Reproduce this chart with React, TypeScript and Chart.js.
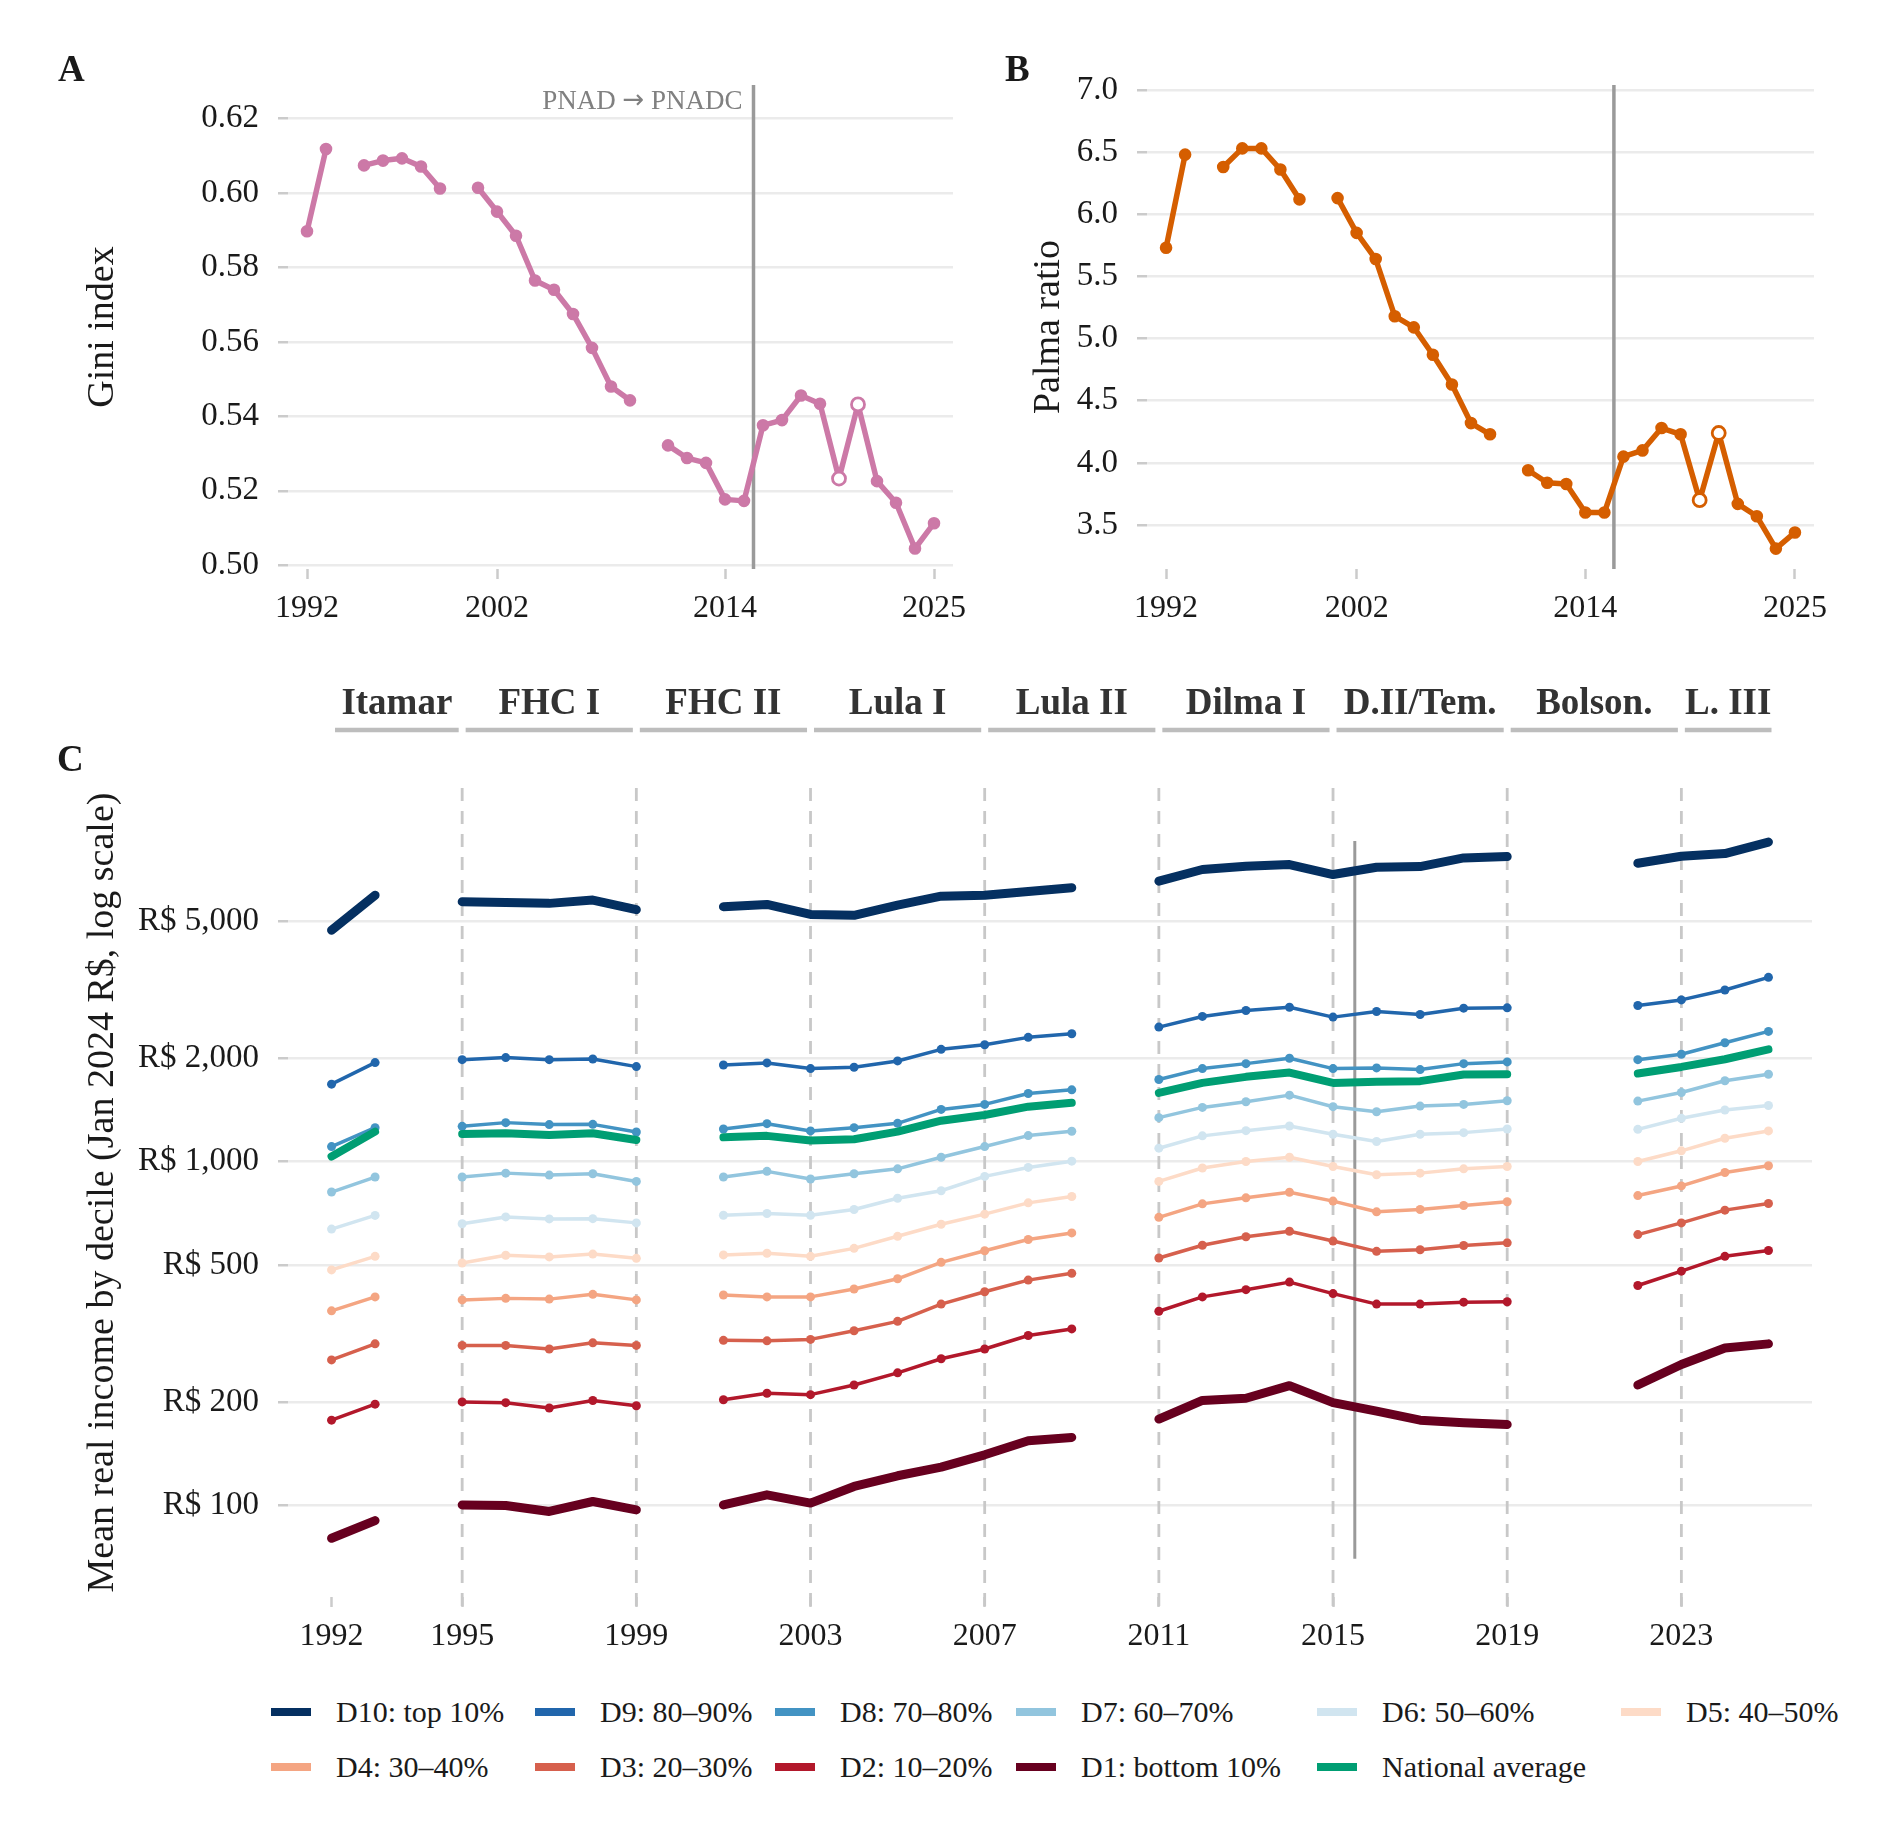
import { useEffect, useRef } from 'react';
import { Chart, registerables } from 'chart.js';
import type { ChartConfiguration, Plugin } from 'chart.js';

Chart.register(...registerables);

// ---- data ----
const YEARS = [
  1992, 1993, 1994, 1995, 1996, 1997, 1998, 1999, 2000, 2001, 2002, 2003,
  2004, 2005, 2006, 2007, 2008, 2009, 2010, 2011, 2012, 2013, 2014, 2015,
  2016, 2017, 2018, 2019, 2020, 2021, 2022, 2023, 2024, 2025,
];

const GINI = [
  0.5897, 0.6118, null, 0.6074, 0.6087, 0.6093, 0.6071, 0.6012, null, 0.6014, 0.595, 0.5885,
  0.5765, 0.574, 0.5675, 0.5584, 0.548, 0.5443, null, 0.5322, 0.5288, 0.5275, 0.5177, 0.5173,
  0.5376, 0.539, 0.5456, 0.5434, 0.5233, 0.5432, 0.5226, 0.5168, 0.5045, 0.5113,
];

const PALMA = [
  5.73, 6.48, null, 6.38, 6.53, 6.53, 6.36, 6.12, null, 6.13, 5.85, 5.64,
  5.18, 5.09, 4.87, 4.63, 4.32, 4.23, null, 3.94, 3.84, 3.83, 3.6, 3.6,
  4.05, 4.1, 4.28, 4.23, 3.7, 4.24, 3.67, 3.57, 3.31, 3.44,
];

const HOLLOW_YEARS = [2020, 2021];
const GINI_TICKS = [0.5, 0.52, 0.54, 0.56, 0.58, 0.6, 0.62];
const PALMA_TICKS = [3.5, 4, 4.5, 5, 5.5, 6, 6.5, 7];
const TOP_YEAR_TICKS = [1992, 2002, 2014, 2025];

const D10 = [
  4700, 5945, null, 5689, 5662, 5627, 5752, 5395, null, 5502, 5589, 5227,
  5194, 5562, 5906, 5945, 6095, 6247, null, 6530, 7059, 7217, 7297, 6826,
  7168, 7200, 7627, 7696, null, null, 7362, 7714, 7852, 8484,
];
const D9 = [
  1678, 1938, null, 1977, 2004, 1977, 1986, 1887, null, 1908, 1934, 1862,
  1879, 1960, 2118, 2185, 2295, 2351, null, 2458, 2640, 2747, 2808, 2628,
  2729, 2674, 2790, 2796, null, null, 2840, 2949, 3152, 3429,
];
const D8 = [
  1105, 1254, null, 1265, 1297, 1280, 1282, 1218, null, 1243, 1288, 1227,
  1254, 1291, 1417, 1465, 1576, 1615, null, 1731, 1862, 1925, 1995, 1862,
  1871, 1850, 1925, 1947, null, null, 1977, 2049, 2214, 2388,
];
const D7 = [
  815, 901, null, 901, 925, 913, 921, 875, null, 901, 936, 889,
  921, 952, 1029, 1105, 1189, 1224, null, 1341, 1436, 1492, 1559, 1443,
  1395, 1449, 1465, 1501, null, null, 1498, 1587, 1716, 1793,
];
const D6 = [
  636, 697, null, 659, 690, 681, 682, 663, null, 698, 706, 698,
  725, 782, 822, 905, 961, 1002, null, 1093, 1187, 1229, 1268, 1200,
  1143, 1200, 1213, 1243, null, null, 1240, 1335, 1411, 1455,
];
const D5 = [
  484, 530, null, 507, 534, 528, 538, 523, null, 535, 541, 530,
  559, 606, 657, 703, 758, 791, null, 875, 957, 1000, 1029, 967,
  915, 925, 952, 967, null, null, 1000, 1074, 1168, 1227,
];
const D4 = [
  368, 404, null, 396, 400, 398, 411, 396, null, 409, 404, 404,
  426, 456, 509, 550, 593, 620, null, 688, 753, 784, 814, 767,
  714, 725, 745, 764, null, null, 796, 849, 929, 972,
];
const D3 = [
  265, 295, null, 292, 292, 285, 297, 292, null, 302, 301, 304,
  322, 343, 385, 418, 452, 473, null, 524, 571, 604, 627, 587,
  548, 554, 570, 580, null, null, 613, 663, 722, 755,
];
const D2 = [
  177, 197, null, 200, 199, 192, 202, 195, null, 203, 212, 210,
  224, 243, 267, 285, 312, 326, null, 367, 404, 424, 446, 413,
  385, 385, 390, 391, null, null, 436, 480, 530, 551,
];
const D1 = [
  80.3, 90.4, null, 100.4, 100, 96.1, 102.7, 97.1, null, 100.4, 107.4, 101.6,
  113.6, 122, 129.3, 140.4, 154.2, 157.7, null, 178.3, 202, 205, 223, 199,
  188, 177, 174, 172, null, null, 224, 257, 287, 295,
];
const NATIONAL = [
  1034, 1221, null, 1202, 1208, 1194, 1208, 1155, null, 1176, 1187, 1150,
  1160, 1221, 1314, 1365, 1443, 1481, null, 1583, 1692, 1762, 1813, 1692,
  1704, 1712, 1789, 1793, null, null, 1801, 1883, 1982, 2118,
];

const INCOME_TICKS = [100, 200, 500, 1000, 2000, 5000];
const INCOME_YEAR_TICKS = [1992, 1995, 1999, 2003, 2007, 2011, 2015, 2019, 2023];

const TERM_NAMES = ['Itamar', 'FHC I', 'FHC II', 'Lula I', 'Lula II', 'Dilma I', 'D.II/Tem.', 'Bolson.', 'L. III'];
const TERM_STARTS = [1992, 1995, 1999, 2003, 2007, 2011, 2015, 2019, 2023];
const TERM_ENDS = [1995, 1999, 2003, 2007, 2011, 2015, 2019, 2023, 2025.15];

const SURVEY_SWITCH = 2015.5;
const SWITCH_SPAN_C = [70, 8540];

// ---- styles ----
const FONT = "'Liberation Serif', 'Times New Roman', serif";
const INK = '#1a1a1a';
const GRID = '#ebebeb';
const TICK = '#cbcbcb';
const PINK = '#CC79A7';
const ORANGE = '#D55E00';

type Series = { label: string; values: (number | null)[]; color: string; width: number; points: boolean };

// first entry drawn on top
const SERIES: Series[] = [
  { label: 'National average', values: NATIONAL, color: '#009E73', width: 8, points: false },
  { label: 'D10: top 10%', values: D10, color: '#053061', width: 9, points: false },
  { label: 'D9: 80–90%', values: D9, color: '#2166ac', width: 3.5, points: true },
  { label: 'D8: 70–80%', values: D8, color: '#4393c3', width: 3.5, points: true },
  { label: 'D7: 60–70%', values: D7, color: '#92c5de', width: 3.5, points: true },
  { label: 'D6: 50–60%', values: D6, color: '#d1e5f0', width: 3.5, points: true },
  { label: 'D5: 40–50%', values: D5, color: '#fddbc7', width: 3.5, points: true },
  { label: 'D4: 30–40%', values: D4, color: '#f4a582', width: 3.5, points: true },
  { label: 'D3: 20–30%', values: D3, color: '#d6604d', width: 3.5, points: true },
  { label: 'D2: 10–20%', values: D2, color: '#b2182b', width: 3.5, points: true },
  { label: 'D1: bottom 10%', values: D1, color: '#67001f', width: 9, points: false },
];

const LEGEND_ORDER = [
  'D10: top 10%', 'D9: 80–90%', 'D8: 70–80%', 'D7: 60–70%', 'D6: 50–60%', 'D5: 40–50%',
  'D4: 30–40%', 'D3: 20–30%', 'D2: 10–20%', 'D1: bottom 10%', 'National average',
];
const LEGEND_COLUMNS = [264, 240, 241, 301, 304, 260];

const toPoints = (vals: (number | null)[]) => YEARS.map((x, i) => ({ x, y: vals[i] }));

function yearAxis(ticks: number[], height: number): any {
  return {
    type: 'linear',
    min: 1991,
    max: 2026,
    afterBuildTicks: (s: any) => { s.ticks = ticks.map((value) => ({ value })); },
    afterFit: (s: any) => { s.height = height; },
    grid: { drawOnChartArea: false, drawTicks: true, tickLength: 10, tickColor: TICK, tickWidth: 2.5 },
    border: { display: false },
    ticks: {
      autoSkip: false, maxRotation: 0, padding: 10, color: INK,
      font: { family: FONT, size: 32 },
      callback: (v: any) => String(v),
    },
  };
}

function valueAxis(kind: string, min: number, max: number, ticks: number[],
  format: (v: number) => string, width: number, title: string, titlePad: number): any {
  return {
    type: kind,
    min,
    max,
    afterBuildTicks: (s: any) => { s.ticks = ticks.map((value) => ({ value })); },
    afterFit: (s: any) => { s.width = width; },
    grid: { color: GRID, lineWidth: 2.5, tickLength: 10, tickColor: TICK, tickWidth: 2.5 },
    border: { display: false },
    ticks: { padding: 19, color: INK, font: { family: FONT, size: 33 }, callback: (v: any) => format(Number(v)) },
    title: { display: true, text: title, color: INK, font: { family: FONT, size: 38 }, padding: { top: titlePad, bottom: 0 } },
  };
}

// vertical line where the survey changes (full height in A and B)
const switchLine: Plugin = {
  id: 'switchLine',
  beforeDatasetsDraw(chart) {
    const { ctx, chartArea, scales } = chart;
    const x = scales.x.getPixelForValue(SURVEY_SWITCH);
    ctx.save();
    ctx.strokeStyle = '#9a9a9a';
    ctx.lineWidth = 3.5;
    ctx.beginPath();
    ctx.moveTo(x, chartArea.top);
    ctx.lineTo(x, chartArea.bottom);
    ctx.stroke();
    ctx.restore();
  },
};

// "PNAD → PNADC", right-aligned against the switch line
const pnadLabel: Plugin = {
  id: 'pnadLabel',
  afterDatasetsDraw(chart) {
    const { ctx, chartArea, scales } = chart;
    const parts = [
      { text: 'PNAD ', font: `27px ${FONT}` },
      { text: '→', font: "26px 'DejaVu Sans', sans-serif" },
      { text: ' PNADC', font: `27px ${FONT}` },
    ];
    ctx.save();
    ctx.fillStyle = '#808080';
    ctx.textAlign = 'left';
    ctx.textBaseline = 'middle';
    const widths = parts.map((p) => { ctx.font = p.font; return ctx.measureText(p.text).width; });
    let x = scales.x.getPixelForValue(SURVEY_SWITCH) - 11 - widths.reduce((a, b) => a + b, 0);
    const y = chartArea.top + 17;
    parts.forEach((p, i) => {
      ctx.font = p.font;
      ctx.fillText(p.text, x, i === 1 ? y - 1 : y);
      x += widths[i];
    });
    ctx.restore();
  },
};

const termMarks: Plugin = {
  id: 'termMarks',
  beforeDatasetsDraw(chart) {
    const { ctx, chartArea, scales } = chart;
    ctx.save();
    ctx.strokeStyle = '#c8c8c8';
    ctx.lineWidth = 2.8;
    ctx.setLineDash([13, 10]);
    TERM_STARTS.slice(1).forEach((yr) => {
      const x = scales.x.getPixelForValue(yr);
      ctx.beginPath();
      ctx.moveTo(x, chartArea.top);
      ctx.lineTo(x, chartArea.bottom + 10);
      ctx.stroke();
    });
    ctx.setLineDash([]);
    const sx = scales.x.getPixelForValue(SURVEY_SWITCH);
    ctx.strokeStyle = '#9a9a9a';
    ctx.lineWidth = 3;
    ctx.beginPath();
    ctx.moveTo(sx, scales.y.getPixelForValue(SWITCH_SPAN_C[1]));
    ctx.lineTo(sx, scales.y.getPixelForValue(SWITCH_SPAN_C[0]));
    ctx.stroke();
    ctx.restore();
  },
  afterDraw(chart) {
    const { ctx, chartArea, scales } = chart;
    ctx.save();
    ctx.font = `bold 37px ${FONT}`;
    ctx.fillStyle = '#333333';
    ctx.textAlign = 'center';
    ctx.textBaseline = 'middle';
    ctx.strokeStyle = '#bdbdbd';
    ctx.lineWidth = 4.5;
    TERM_NAMES.forEach((name, i) => {
      const x0 = scales.x.getPixelForValue(TERM_STARTS[i] + 0.08);
      const x1 = scales.x.getPixelForValue(TERM_ENDS[i] - 0.08);
      ctx.beginPath();
      ctx.moveTo(x0, chartArea.top - 58);
      ctx.lineTo(x1, chartArea.top - 58);
      ctx.stroke();
      ctx.fillText(name, (x0 + x1) / 2, chartArea.top - 84);
    });
    ctx.restore();
  },
};

function inequalityConfig(values: (number | null)[], color: string, yAxis: any, padRight: number, extra: Plugin[]): ChartConfiguration {
  const hollow = (c: any) => HOLLOW_YEARS.includes(YEARS[c.dataIndex]);
  return {
    type: 'line',
    data: {
      datasets: [{
        data: toPoints(values) as any,
        borderColor: color,
        borderWidth: 5.5,
        borderCapStyle: 'round',
        borderJoinStyle: 'round',
        tension: 0,
        spanGaps: false,
        pointRadius: (c: any) => (hollow(c) ? 6.5 : 5.3),
        pointBorderWidth: (c: any) => (hollow(c) ? 2.8 : 2),
        pointBorderColor: color,
        pointBackgroundColor: (c: any) => (hollow(c) ? '#ffffff' : color),
      }],
    },
    options: {
      animation: false,
      responsive: true,
      maintainAspectRatio: false,
      layout: { padding: { left: 0, top: 85, right: padRight, bottom: 0 } },
      plugins: { legend: { display: false }, tooltip: { enabled: false } },
      scales: { x: yearAxis(TOP_YEAR_TICKS, 91), y: yAxis },
    },
    plugins: [switchLine, ...extra],
  };
}

const giniConfig = () => inequalityConfig(
  GINI, PINK,
  valueAxis('linear', 0.499, 0.629, GINI_TICKS, (v) => v.toFixed(2), 288, 'Gini index', 80),
  57, [pnadLabel],
);

const palmaConfig = () => inequalityConfig(
  PALMA, ORANGE,
  valueAxis('linear', 3.146, 7.04, PALMA_TICKS, (v) => v.toFixed(1), 187, 'Palma ratio', 66),
  66, [],
);

const incomeConfig = (): ChartConfiguration => ({
  type: 'line',
  data: {
    datasets: SERIES.map((s) => ({
      label: s.label,
      data: toPoints(s.values) as any,
      borderColor: s.color,
      backgroundColor: s.color,
      borderWidth: s.width,
      borderCapStyle: 'round',
      borderJoinStyle: 'round',
      tension: 0,
      spanGaps: false,
      pointRadius: s.points ? 4.5 : 0,
      pointBorderWidth: 0,
      pointBackgroundColor: s.color,
    })),
  },
  options: {
    animation: false,
    responsive: true,
    maintainAspectRatio: false,
    layout: { padding: { left: 0, top: 148, right: 68, bottom: 0 } },
    plugins: { legend: { display: false }, tooltip: { enabled: false } },
    scales: {
      x: yearAxis(INCOME_YEAR_TICKS, 83),
      y: valueAxis('logarithmic', 54.2, 12180, INCOME_TICKS,
        (v) => 'R$ ' + v.toLocaleString('en-US'), 288,
        'Mean real income by decile (Jan 2024 R$, log scale)', 80),
    },
  },
  plugins: [termMarks],
});

type Box = { left: number; top: number; width: number; height: number };

function ChartBox({ box, build }: { box: Box; build: () => ChartConfiguration }) {
  const canvasRef = useRef<HTMLCanvasElement>(null);

  useEffect(() => {
    if (!canvasRef.current) return;
    const chart = new Chart(canvasRef.current, build());
    return () => chart.destroy();
  }, [build]);

  return (
    <div style={{ position: 'absolute', ...box }}>
      <canvas ref={canvasRef} />
    </div>
  );
}

function PanelLetter({ text, left, top }: { text: string; left: number; top: number }) {
  return (
    <div style={{ position: 'absolute', left, top, fontFamily: FONT, fontWeight: 'bold', fontSize: 37, lineHeight: '37px', color: INK }}>
      {text}
    </div>
  );
}

export default function App() {
  const colorOf = (label: string) => SERIES.find((s) => s.label === label)!.color;
  return (
    <div style={{ position: 'absolute', left: 0, top: 0, width: 1880, height: 1830, background: '#ffffff', overflow: 'hidden' }}>
      <ChartBox box={{ left: 0, top: 0, width: 1010, height: 660 }} build={giniConfig} />
      <ChartBox box={{ left: 960, top: 0, width: 920, height: 660 }} build={palmaConfig} />
      <ChartBox box={{ left: 0, top: 640, width: 1880, height: 1040 }} build={incomeConfig} />
      <PanelLetter text="A" left={58} top={50} />
      <PanelLetter text="B" left={1005} top={50} />
      <PanelLetter text="C" left={57} top={740} />
      <div
        style={{
          position: 'absolute', left: 271, top: 1684, display: 'grid',
          gridTemplateColumns: LEGEND_COLUMNS.map((w) => `${w}px`).join(' '),
          fontFamily: FONT, fontSize: 30, color: INK,
        }}
      >
        {LEGEND_ORDER.map((label) => (
          <div key={label} style={{ display: 'flex', alignItems: 'center', height: 55, whiteSpace: 'nowrap' }}>
            <span style={{ display: 'inline-block', width: 40, height: 8, background: colorOf(label), marginRight: 25 }} />
            {label}
          </div>
        ))}
      </div>
    </div>
  );
}
